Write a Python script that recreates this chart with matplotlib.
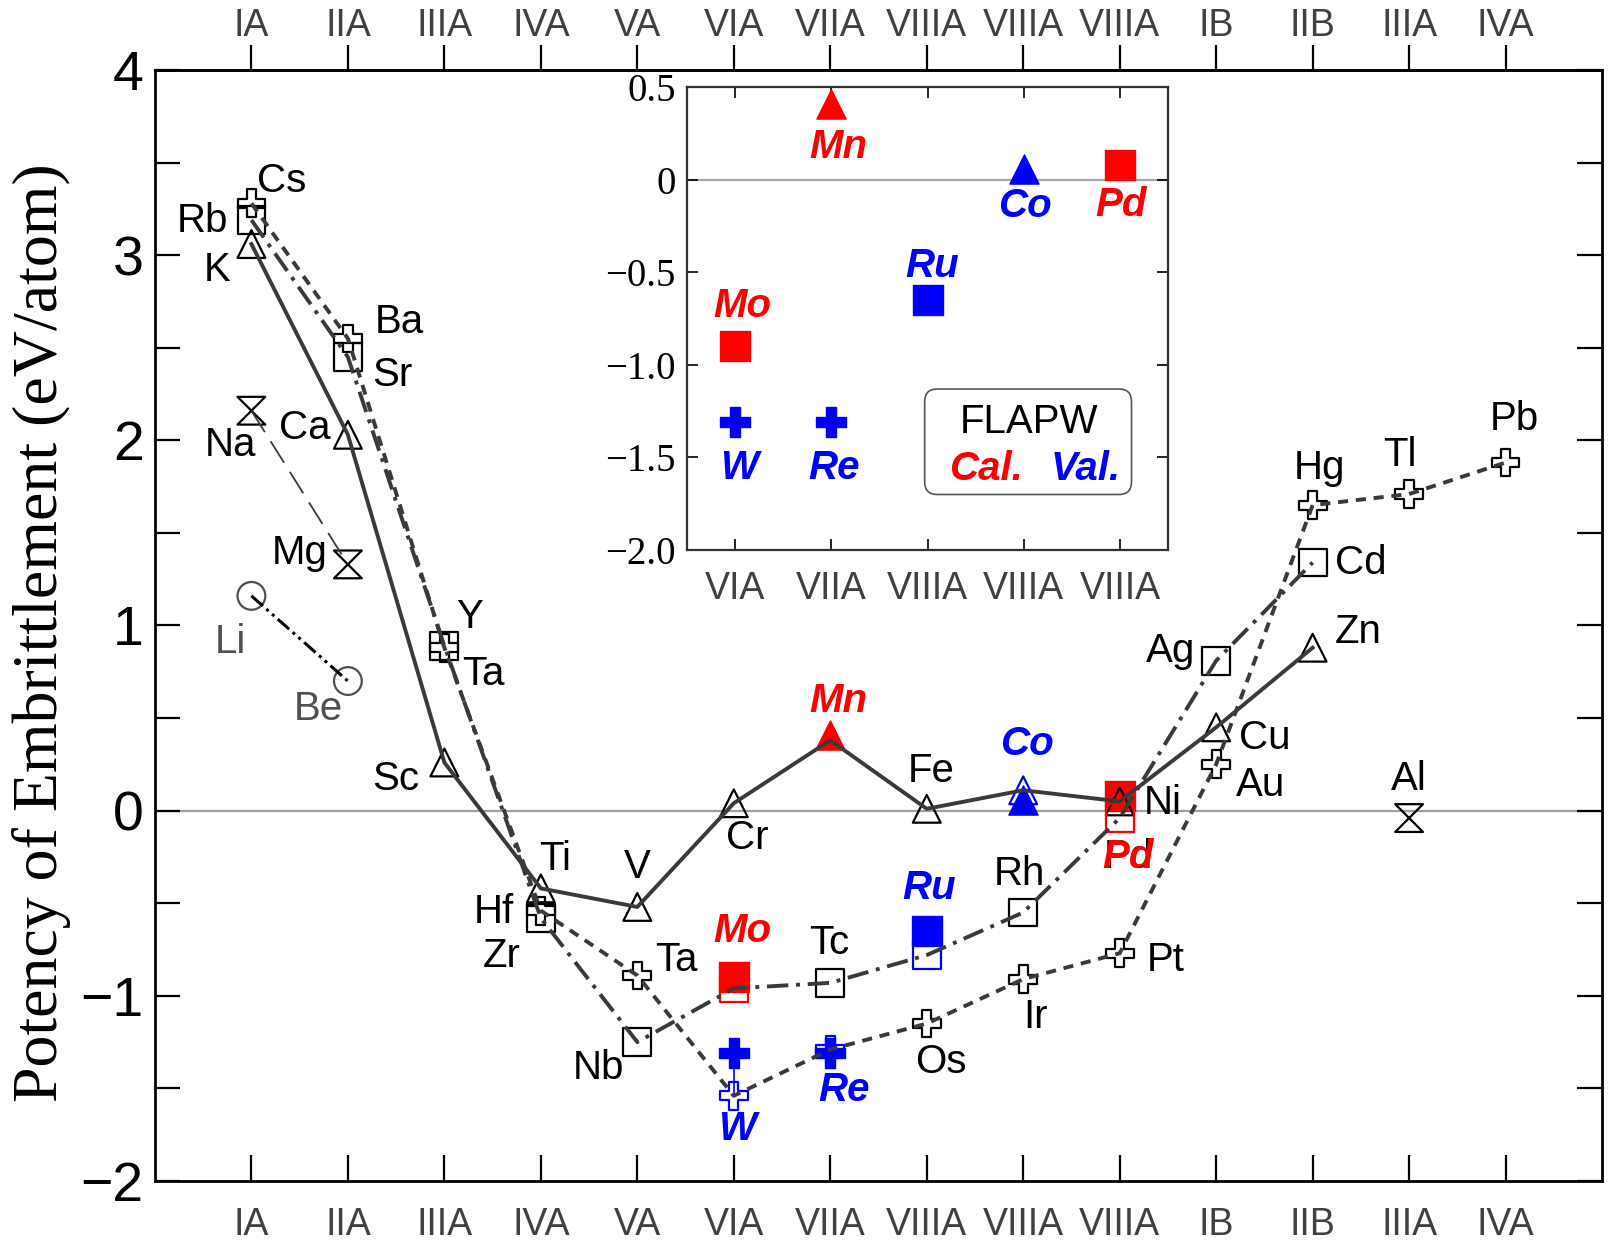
import matplotlib
matplotlib.use('Agg')
import matplotlib.pyplot as plt
from matplotlib.path import Path
from matplotlib.patches import FancyBboxPatch
from matplotlib.ticker import MultipleLocator

plt.rcParams['font.family'] = ['Liberation Sans', 'DejaVu Sans']

groups = ['IA', 'IIA', 'IIIA', 'IVA', 'VA', 'VIA', 'VIIA', 'VIIIA', 'VIIIA', 'VIIIA', 'IB', 'IIB', 'IIIA', 'IVA']
group_pos = list(range(len(groups)))

# period 4 (triangles, solid line)
p4_names = ['K', 'Ca', 'Sc', 'Ti', 'V', 'Cr', 'Mn', 'Fe', 'Co', 'Ni', 'Cu', 'Zn']
p4_x = [0, 1, 2, 3, 4, 5, 6, 7, 8, 9, 10, 11]
p4_y = [3.06, 2.03, 0.26, -0.42, -0.52, 0.04, 0.38, 0.01, 0.11, 0.05, 0.45, 0.88]

# period 5 (squares, dash-dot)
p5_names = ['Rb', 'Sr', 'Y', 'Zr', 'Nb', 'Mo', 'Tc', 'Ru', 'Rh', 'Pd', 'Ag', 'Cd']
p5_x = [0, 1, 2, 3, 4, 5, 6, 7, 8, 9, 10, 11]
p5_y = [3.19, 2.45, 0.89, -0.58, -1.25, -0.96, -0.93, -0.78, -0.55, -0.04, 0.81, 1.34]

# period 6 (plus, dashed)
p6_names = ['Cs', 'Ba', 'Ta', 'Hf', 'Ta', 'W', 'Re', 'Os', 'Ir', 'Pt', 'Au', 'Hg', 'Tl', 'Pb']
p6_x = [0, 1, 2, 3, 4, 5, 6, 7, 8, 9, 10, 11, 12, 13]
p6_y = [3.28, 2.55, 0.88, -0.54, -0.89, -1.54, -1.29, -1.15, -0.91, -0.77, 0.25, 1.65, 1.71, 1.88]

# period 3 (hourglass, long dash) and Al
p3_names = ['Na', 'Mg']
p3_x = [0, 1]
p3_y = [2.16, 1.33]
al_names = ['Al']
al_x = [12]
al_y = [-0.04]

# period 2 (circles)
p2_names = ['Li', 'Be']
p2_x = [0, 1]
p2_y = [1.16, 0.70]

# FLAPW calculated / validated values
cal_names = ['Mo', 'W', 'Mn', 'Re', 'Ru', 'Co', 'Pd']
cal_x = [5, 5, 6, 6, 7, 8, 9]
cal_y = [-0.90, -1.31, 0.41, -1.31, -0.65, 0.06, 0.08]

# styles / label offsets (points)
RED, BLUE, DARK = '#ff0000', '#0000ff', '#3a3a3a'
cal_marker = ['s', 'P', '^', 'P', 's', '^', 's']
cal_color = [RED, BLUE, RED, BLUE, BLUE, BLUE, RED]
p4_edge = ['k'] * 6 + ['none', 'k', BLUE, 'k', 'k', 'k']
p5_edge = ['k'] * 5 + [RED, 'k', BLUE, 'k', RED, 'k', 'k']
p6_edge = ['k'] * 5 + [BLUE, BLUE] + ['k'] * 7

p4_off = [(-25, -19), (-31, 5), (-35, -12), (10, 21), (0, 29), (10, -25), None, (3, 27), None, (31, -1), (35, -8), (33, 11)]
p5_off = [(-35, -1), (32, -13), (18, 21), (-28, -27), (-28, -19), None, (-1, 29), None, (-3, 28), (6, -28), (-33, 7), (35, 0)]
p6_off = [(22, 16), (37, 12), (28, -19), (-34, -1), (28, 11), (2, -24), (10, -29), (10, -28), (9, -27), (33, -5), (32, -15), (5, 27), (-7, 28), (6, 31)]
p3_off = [(-15, -25), (-35, 8)]
al_off = [(0, 28)]
p2_off = [(-15, -33), (-21, -20)]
cal_off_main = {'Mo': (6, 33), 'Mn': (6, 24), 'Ru': (2, 31), 'Co': (3, 40)}
cal_off_inset = {'Mo': (5, 29), 'W': (3, -33), 'Mn': (5, -31), 'Re': (2, -33), 'Ru': (3, 25), 'Co': (1, -27), 'Pd': (1, -29)}

FS = 29
MS = 20
LW = 2.8

fig = plt.figure(figsize=(16.14, 12.46), dpi=100)
ax = fig.add_axes([0.0960, 0.0522, 0.8966, 0.8916])

hourglass = Path([(-1, 1), (1, 1), (-1, -1), (1, -1), (-1, 1)],
                 [Path.MOVETO, Path.LINETO, Path.LINETO, Path.LINETO, Path.CLOSEPOLY])

ax.axhline(0, color='#a0a0a0', lw=1.6, zorder=1)

# lines
ax.plot(p4_x, p4_y, '-', color=DARK, lw=LW, zorder=6)
ax.plot(p5_x, p5_y, color=DARK, lw=LW, ls=(0, (5.5, 2, 1, 2)), zorder=6)
ax.plot(p6_x, p6_y, color=DARK, lw=LW, ls=(0, (2.6, 2)), zorder=6)
ax.plot(p3_x, p3_y, color=DARK, lw=1.3, ls=(0, (14, 6)), zorder=6)
ax.plot(p2_x, p2_y, color='k', lw=2.2, ls=(0, (5, 1.5, 1, 1.5, 1, 1.5)), zorder=6)

# W connector
ax.plot([cal_x[1], p6_x[5]], [cal_y[1], p6_y[5]], color=BLUE, lw=1.2, zorder=3)

# FLAPW filled markers
for x, y, m, c in zip(cal_x, cal_y, cal_marker, cal_color):
    ax.scatter([x], [y], marker=m, s=(MS + 1) ** 2, c=c, edgecolors=c, linewidths=1, zorder=4)

# open markers
ax.scatter(p4_x, p4_y, marker='^', s=MS ** 2, facecolors='none', edgecolors=p4_edge, linewidths=1.6, zorder=5)
ax.scatter(p5_x, p5_y, marker='s', s=MS ** 2, facecolors='none', edgecolors=p5_edge, linewidths=1.6, zorder=5)
ax.scatter(p6_x, p6_y, marker='P', s=MS ** 2, facecolors='none', edgecolors=p6_edge, linewidths=1.6, zorder=5)
ax.scatter(p3_x + al_x, p3_y + al_y, marker=hourglass, s=MS ** 2, facecolors='none', edgecolors='k', linewidths=1.6, zorder=5)
ax.scatter(p2_x, p2_y, marker='o', s=MS ** 2, facecolors='none', edgecolors='#505050', linewidths=1.6, zorder=5)


def label(a, names, xs, ys, offs, color='k', bold=False):
    for n, x, y, o in zip(names, xs, ys, offs):
        if o is None:
            continue
        a.annotate(n, (x, y), xytext=o, textcoords='offset points', ha='center', va='center',
                   fontsize=FS, color=color, zorder=7,
                   fontweight='bold' if bold else 'normal', fontstyle='italic' if bold else 'normal')


label(ax, p4_names, p4_x, p4_y, p4_off)
label(ax, p5_names, p5_x, p5_y, p5_off)
label(ax, p6_names[:5] + p6_names[7:], p6_x[:5] + p6_x[7:], p6_y[:5] + p6_y[7:], p6_off[:5] + p6_off[7:])
label(ax, p3_names, p3_x, p3_y, p3_off)
label(ax, al_names, al_x, al_y, al_off)
label(ax, p2_names, p2_x, p2_y, p2_off, color='#505050')
for n, x, y, c in zip(cal_names, cal_x, cal_y, cal_color):
    if n in cal_off_main:
        label(ax, [n], [x], [y], [cal_off_main[n]], color=c, bold=True)
label(ax, ['W', 'Re'], p6_x[5:7], p6_y[5:7], p6_off[5:7], color=BLUE, bold=True)
label(ax, ['Pd'], [p5_x[9]], [p5_y[9]], [p5_off[9]], color=RED, bold=True)

ax.set_xlim(-1, 14)
ax.set_ylim(-2, 4)
ax.set_xticks(group_pos)
ax.set_xticklabels(groups)
ax.yaxis.set_major_locator(MultipleLocator(1))
ax.yaxis.set_minor_locator(MultipleLocator(0.5))
ax.tick_params(axis='y', which='both', direction='in', length=18, width=1.6, right=True,
               labelsize=40, pad=8)
ax.tick_params(axis='x', direction='in', length=19, width=1.6, labelsize=27, pad=19,
               labelcolor='#404040')
for s in ax.spines.values():
    s.set_linewidth(2)

top = ax.secondary_xaxis('top')
top.set_xticks(group_pos)
top.set_xticklabels(groups)
top.tick_params(direction='out', length=18, width=1.6, labelsize=27, pad=1, labelcolor='#404040')
top.spines['top'].set_linewidth(2)

fig.text(0.026, 0.492, 'Potency of Embrittlement (eV/atom)', rotation=90, ha='center', va='center',
         fontsize=46, family='Liberation Serif')

# inset
ins = fig.add_axes([0.4257, 0.5586, 0.298, 0.3712])
ins.axhline(0, color='#a8a8a8', lw=1.6, zorder=1)
for x, y, m, c in zip(cal_x, cal_y, cal_marker, cal_color):
    ins.scatter([x], [y], marker=m, s=(MS + 1) ** 2, c=c, edgecolors=c, linewidths=1, zorder=4, clip_on=False)
for n, x, y, c in zip(cal_names, cal_x, cal_y, cal_color):
    label(ins, [n], [x], [y], [cal_off_inset[n]], color=c, bold=True)

ins.set_xlim(4.5, 9.5)
ins.set_ylim(-2, 0.5)
ins.set_xticks(group_pos[5:10])
ins.set_xticklabels(groups[5:10])
ins.set_yticks([0.5, 0, -0.5, -1.0, -1.5, -2.0])
ins.set_yticklabels(['0.5', '0', '\u22120.5', '\u22121.0', '\u22121.5', '\u22122.0'],
                    family='Liberation Serif')
ins.tick_params(axis='y', direction='in', length=8, width=1.2, right=True, labelsize=28, pad=8)
ins.tick_params(axis='x', direction='in', length=8, width=1.2, top=True, labelsize=27, pad=15,
                labelcolor='#404040')
for s in ins.spines.values():
    s.set_linewidth(1.6)
    s.set_color('#333333')

box = FancyBboxPatch((6.97, -1.70), 2.15, 0.57, boxstyle='round,pad=0,rounding_size=0.13',
                     mutation_aspect=0.52, fc='white', ec='#555555', lw=1.2, zorder=3)
ins.add_patch(box)
ins.text(8.05, -1.31, 'FLAPW', ha='center', va='center', fontsize=FS, zorder=5)
ins.text(7.61, -1.56, 'Cal.', ha='center', va='center', fontsize=FS, color=RED,
         fontweight='bold', fontstyle='italic', zorder=5)
ins.text(8.64, -1.56, 'Val.', ha='center', va='center', fontsize=FS, color=BLUE,
         fontweight='bold', fontstyle='italic', zorder=5)

fig.savefig('out.png', dpi=100)
